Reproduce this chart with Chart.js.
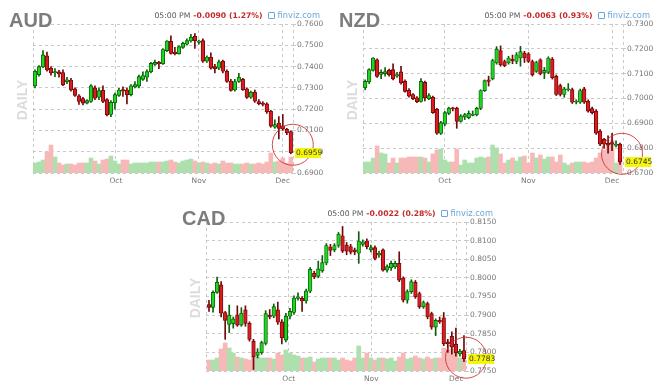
<!DOCTYPE html>
<html>
<head>
<meta charset="utf-8">
<script src="https://cdn.jsdelivr.net/npm/chart.js@4.4.1/dist/chart.umd.min.js"></script>
<style>
    body {margin: 0; background: #fff; width: 666px; height: 388px; overflow: hidden; position: relative; font-family: "DejaVu Sans", sans-serif;}
    .panel {position: absolute; width: 336px; height: 190px;}
    .panel canvas {position: absolute; left: 0; top: 0;}
    .title {position: absolute; left: 9px; top: 10px; font: bold 20px/20px "Liberation Sans", Arial, sans-serif; color: #7c7c7c;}
    .daily {position: absolute; left: -8px; top: 93px; width: 60px; text-align: center; font: bold 14px/14px "Liberation Sans", Arial, sans-serif; color: #dcdcdc; transform: rotate(-90deg);}
    .head {position: absolute; right: 16px; top: 10px; font-size: 7.7px; line-height: 10px; white-space: nowrap; color: #555;}
    .head .chg {color: #c62828; font-weight: bold; margin-left: 3px;}
    .head .brand {color: #6aa6d8; margin-left: 5px; font-size: 8.3px;}
    .head .brand i {display: inline-block; width: 5px; height: 5px; border: 1px solid #6aa6d8; border-radius: 1px; margin-right: 3px; vertical-align: -1px;}
</style>
</head>
<body>
<div class="panel" style="left:0;top:0">
    <canvas id="audChart" width="336" height="190"></canvas>
    <div class="title">AUD</div>
    <div class="daily">DAILY</div>
    <div class="head"><span>05:00 PM</span><span class="chg">-0.0090 (1.27%)</span><span class="brand"><i></i>finviz.com</span></div>
</div>
<div class="panel" style="left:330px;top:0">
    <canvas id="nzdChart" width="336" height="190"></canvas>
    <div class="title">NZD</div>
    <div class="daily">DAILY</div>
    <div class="head"><span>05:00 PM</span><span class="chg">-0.0063 (0.93%)</span><span class="brand"><i></i>finviz.com</span></div>
</div>
<div class="panel" style="left:173px;top:198px">
    <canvas id="cadChart" width="336" height="190"></canvas>
    <div class="title">CAD</div>
    <div class="daily">DAILY</div>
    <div class="head"><span>05:00 PM</span><span class="chg">-0.0022 (0.28%)</span><span class="brand"><i></i>finviz.com</span></div>
</div>
<script>
// daily candles, Sep -> early Dec
const monthNames = ["Oct", "Nov", "Dec"];

const audOpen = [.7310,.7362,.7398,.7450,.7392,.7370,.7375,.7372,.7328,.7337, .7295,.7262,.7250,.7228,.7236,.7300,.7256,.7288,.7245,.7175,
    .7230,.7265,.7292,.7290,.7268,.7305,.7308,.7340,.7350,.7375, .7410,.7420,.7413,.7475,.7518,.7468,.7460,.7490,.7505,.7520,
    .7542,.7514,.7522,.7425,.7444,.7400,.7392,.7425,.7378,.7332, .7290,.7330,.7340,.7296,.7256,.7280,.7236,.7228,.7225,.7190,
    .7115,.7135,.7122,.7105,.7095];
const audHigh = [.7385,.7405,.7475,.7468,.7400,.7390,.7382,.7385,.7350,.7345, .7300,.7268,.7255,.7245,.7315,.7310,.7300,.7310,.7250,.7240,
    .7275,.7298,.7305,.7300,.7315,.7330,.7360,.7375,.7385,.7420, .7430,.7425,.7485,.7522,.7545,.7490,.7498,.7515,.7530,.7552,
    .7555,.7525,.7530,.7450,.7465,.7410,.7430,.7430,.7385,.7340, .7340,.7368,.7345,.7300,.7285,.7290,.7245,.7235,.7230,.7195,
    .7150,.7165,.7175,.7110,.7098];
const audLow = [.7300,.7355,.7395,.7378,.7360,.7352,.7350,.7310,.7320,.7285, .7260,.7222,.7220,.7225,.7232,.7245,.7245,.7230,.7168,.7165,
    .7200,.7260,.7260,.7225,.7262,.7300,.7300,.7335,.7330,.7370, .7405,.7390,.7410,.7470,.7458,.7455,.7458,.7485,.7500,.7515,
    .7485,.7505,.7420,.7420,.7388,.7370,.7385,.7370,.7325,.7285, .7285,.7325,.7288,.7250,.7250,.7232,.7220,.7215,.7180,.7115,
    .7110,.7060,.7100,.7080,.6990];
const audClose = [.7378,.7400,.7455,.7384,.7370,.7377,.7365,.7314,.7338,.7290, .7265,.7236,.7228,.7240,.7309,.7251,.7287,.7236,.7173,.7232,
    .7268,.7290,.7284,.7267,.7310,.7315,.7353,.7358,.7376,.7415, .7420,.7413,.7480,.7520,.7462,.7460,.7494,.7509,.7522,.7538,
    .7522,.7520,.7425,.7445,.7392,.7390,.7422,.7378,.7330,.7288, .7330,.7350,.7292,.7255,.7280,.7237,.7226,.7222,.7188,.7120,
    .7127,.7110,.7106,.7089,.6995];
const audVolume = [10,11,13,21,28,16,10,8,9,9, 8,10,10,10,15,12,9,13,14,17, 12,9,13,13,9,10,10,10,10,11,
    11,11,11,12,13,11,10,12,13,14, 12,10,11,10,9,10,9,12,10,10, 9,9,9,10,9,9,10,9,11,20, 11,12,15,10,16];
const audMonthAt = [20.25, 41, 62];
const audLast = "0.6959";

const nzdOpen = [.7043,.7067,.7113,.7156,.7097,.7100,.7113,.7116,.7090,.7107, .7069,.7033,.7016,.7003,.6988,.7065,.6999,.7005,.6956,.6859,
    .6897,.6940,.6962,.6961,.6908,.6925,.6923,.6932,.6934,.6960, .7032,.7075,.7079,.7143,.7193,.7149,.7143,.7159,.7149,.7163,
    .7183,.7180,.7149,.7109,.7156,.7103,.7105,.7159,.7089,.7052, .7016,.7036,.7036,.6985,.6985,.7039,.6989,.6959,.6949,.6869,
    .6836,.6820,.6823,.6811,.6816];
const nzdHigh = [.7075,.7120,.7165,.7160,.7115,.7125,.7118,.7140,.7105,.7130, .7075,.7040,.7020,.7008,.7080,.7070,.7020,.7010,.6960,.6908,
    .6948,.6965,.6965,.6965,.6935,.6940,.6950,.6950,.6965,.7035, .7075,.7090,.7158,.7209,.7212,.7155,.7170,.7175,.7185,.7210,
    .7190,.7185,.7155,.7150,.7160,.7125,.7168,.7165,.7095,.7058, .7045,.7060,.7042,.6995,.7038,.7045,.6995,.6965,.6955,.6875,
    .6840,.6850,.6860,.6830,.6820];
const nzdLow = [.7035,.7060,.7110,.7085,.7080,.7090,.7090,.7075,.7085,.7058, .7025,.7005,.6995,.6983,.6985,.6990,.6995,.6940,.6855,.6855,
    .6890,.6935,.6950,.6880,.6905,.6915,.6918,.6930,.6930,.6955, .7028,.7050,.7075,.7138,.7130,.7128,.7138,.7140,.7140,.7130,
    .7145,.7145,.7090,.7105,.7095,.7080,.7100,.7078,.7012,.7010, .7005,.7030,.6980,.6978,.6980,.6980,.6945,.6938,.6855,.6810,
    .6800,.6780,.6790,.6805,.6735];
const nzdClose = [.7069,.7116,.7163,.7089,.7105,.7108,.7096,.7079,.7096,.7063, .7029,.7009,.6999,.6987,.7069,.7003,.7012,.6943,.6860,.6903,
    .6943,.6961,.6958,.6908,.6930,.6935,.6940,.6937,.6960,.7032, .7072,.7069,.7153,.7199,.7136,.7132,.7163,.7152,.7176,.7189,
    .7163,.7149,.7096,.7145,.7099,.7113,.7163,.7083,.7016,.7016, .7039,.7039,.6985,.6989,.7032,.6985,.6949,.6943,.6860,.6816,
    .6816,.6812,.6816,.6816,.6745];
const nzdVolume = [11,11,15,27,20,19,10,15,10,15, 15,16,16,16,16,15,11,19,23,24, 13,11,11,24,8,13,10,10,15,16,
    15,16,28,25,19,10,13,15,12,16, 17,10,20,15,18,14,16,16,11,18, 10,8,10,11,11,11,10,11,15,20, 23,28,33,10,15];
const nzdMonthAt = [20, 41, 62];
const nzdLast = "0.6745";

const cadOpen = [.7928,.7921,.7961,.7981,.7907,.7875,.7877,.7901,.7873,.7914, .7878,.7830,.7792,.7799,.7824,.7900,.7897,.7914,.7882,.7833,
    .7897,.7907,.7945,.7945,.7938,.7964,.8012,.8004,.8019,.8040, .8083,.8075,.8087,.8113,.8088,.8084,.8075,.8066,.8090,.8099,
    .8075,.8081,.8061,.8075,.8021,.8027,.8030,.8039,.7999,.7940, .7963,.7988,.7958,.7922,.7931,.7904,.7868,.7886,.7893,.7828,
    .7843,.7822,.7796,.7805];
const cadHigh = [.7940,.7965,.8002,.7990,.7910,.7927,.7895,.7925,.7920,.7925, .7882,.7835,.7810,.7830,.7912,.7915,.7930,.7935,.7888,.7905,
    .7918,.7952,.7960,.7950,.7970,.8028,.8018,.8045,.8060,.8092, .8090,.8092,.8122,.8138,.8095,.8090,.8080,.8124,.8102,.8105,
    .8088,.8086,.8072,.8078,.8035,.8045,.8045,.8070,.8003,.7968, .7995,.7993,.7962,.7938,.7935,.7908,.7890,.7895,.7907,.7835,
    .7855,.7865,.7808,.7845];
const cadLow = [.7910,.7908,.7958,.7895,.7835,.7853,.7865,.7870,.7870,.7870, .7830,.7754,.7785,.7795,.7820,.7890,.7893,.7875,.7823,.7828,
    .7890,.7902,.7940,.7910,.7932,.7960,.7998,.8000,.8015,.8035, .8060,.8070,.8082,.8068,.8062,.8064,.8062,.8039,.8085,.8078,
    .8070,.8048,.8055,.8018,.8015,.8020,.8025,.7990,.7935,.7932, .7958,.7945,.7918,.7918,.7890,.7862,.7845,.7878,.7818,.7800,
    .7795,.7790,.7790,.7775];
const cadClose = [.7921,.7961,.7988,.7905,.7886,.7900,.7890,.7873,.7905,.7878, .7835,.7788,.7801,.7826,.7904,.7895,.7923,.7881,.7839,.7897,
    .7910,.7946,.7949,.7938,.7965,.8023,.8003,.8024,.8041,.8087, .8074,.8087,.8117,.8072,.8072,.8069,.8070,.8099,.8097,.8084,
    .8081,.8052,.8066,.8021,.8030,.8039,.8039,.7994,.7940,.7963, .7990,.7949,.7922,.7934,.7895,.7868,.7886,.7882,.7823,.7823,
    .7814,.7799,.7803,.7783];
const cadVolume = [11,11,13,22,28,23,18,14,13,12, 11,14,14,13,13,13,12,18,16,21, 18,16,15,13,13,14,9,12,13,13,
    13,13,11,13,11,10,13,25,13,18, 13,11,13,13,12,13,10,14,18,12, 13,15,13,12,14,12,13,13,23,21, 22,18,13,13];
const cadMonthAt = [19.7, 40.1, 61.1];
const cadLast = "0.7783";

const colors = {
    upFill: "#1fd61f", upEdge: "#0d5f0d",
    downFill: "#dc1a1f", downEdge: "#6e0a0a",
    upVol: "#ade0ad", downVol: "#f7b8b8",
    grid: "#c9c9c9", text: "#777"
};

// red ring + yellow last-price tag
const lastPricePlugin = {
    id: "lastPrice",
    afterDraw(chart, args, opts) {
        const {ctx, chartArea, scales} = chart;
        const i = opts.close.length - 1;
        const y = scales.y.getPixelForValue(opts.close[i]);
        const x = scales.x.getPixelForValue(i);
        ctx.save();
        ctx.strokeStyle = "rgba(205,45,45,0.85)";
        ctx.lineWidth = 1;
        ctx.beginPath();
        ctx.arc(x + opts.ring[0], y + opts.ring[1], 20.5, 0, Math.PI * 2);
        ctx.stroke();
        ctx.fillStyle = "#f6f60a";
        ctx.fillRect(chartArea.right + 2, Math.round(y) - 5, 26, 10);
        ctx.fillStyle = "#333";
        ctx.font = "7.5px 'DejaVu Sans'";
        ctx.textBaseline = "middle";
        ctx.fillText(opts.label, chartArea.right + 3, Math.round(y) + 0.5);
        ctx.restore();
    }
};

function makeChart(canvasId, set) {
    const up = set.close.map((c, i) => c >= set.open[i]);
    const bodies = set.close.map((c, i) => ({x: i, y: [set.open[i], c]}));
    const wicks = set.close.map((c, i) => ({x: i, y: [set.low[i], set.high[i]]}));
    const volumes = set.volume.map((v, i) => ({x: i, y: v}));
    const tickValues = [set.xRange[0]].concat(set.monthAt, [set.xRange[1]]);

    return new Chart(document.getElementById(canvasId), {
        type: "bar",
        data: {
            datasets: [
                {
                    data: bodies, order: 1, barThickness: 3.6, borderWidth: 0.9, borderSkipped: false,
                    backgroundColor: up.map((u) => u ? colors.upFill : colors.downFill),
                    borderColor: up.map((u) => u ? colors.upEdge : colors.downEdge)
                },
                {
                    data: wicks, order: 2, barThickness: 1,
                    backgroundColor: up.map((u) => u ? colors.upEdge : colors.downEdge)
                },
                {
                    data: volumes, order: 3, yAxisID: "yv", barPercentage: 1, categoryPercentage: 1,
                    backgroundColor: up.map((u) => u ? colors.upVol : colors.downVol)
                }
            ]
        },
        options: {
            responsive: false,
            animation: false,
            devicePixelRatio: 1,
            datasets: {bar: {grouped: false}},
            layout: {padding: {left: 33, top: 24, right: 0, bottom: 0}, autoPadding: false},
            plugins: {
                legend: {display: false},
                tooltip: {enabled: false},
                lastPrice: {close: set.close, label: set.last, ring: set.ring}
            },
            scales: {
                x: {
                    type: "linear",
                    offset: false,
                    min: set.xRange[0],
                    max: set.xRange[1],
                    afterBuildTicks: (scale) => {
                        scale.ticks = tickValues.map((v) => ({value: v}));
                    },
                    afterFit: (scale) => {
                        scale.height = 17;
                    },
                    grid: {color: colors.grid, drawTicks: false, offset: false},
                    border: {display: false, dash: [3, 3]},
                    ticks: {
                        autoSkip: false, maxRotation: 0, padding: 4, color: colors.text,
                        font: {family: "DejaVu Sans", size: 7.5},
                        callback: (value, index) => monthNames[index - 1] || ""
                    }
                },
                y: {
                    position: "right",
                    min: set.yRange[0],
                    max: set.yRange[1],
                    afterFit: (scale) => {
                        scale.width = 43;
                    },
                    grid: {color: colors.grid, tickLength: 3},
                    border: {display: false, dash: [3, 3]},
                    ticks: {
                        stepSize: set.yStep, padding: 1, color: colors.text,
                        font: {family: "DejaVu Sans", size: 7.5},
                        callback: (value) => value.toFixed(4)
                    }
                },
                yv: {display: false, min: 0, max: 149}
            }
        },
        plugins: [lastPricePlugin]
    });
}

makeChart("audChart", {
    open: audOpen, high: audHigh, low: audLow, close: audClose, volume: audVolume,
    monthAt: audMonthAt, last: audLast,
    xRange: [-0.5, 64.55], yRange: [0.69, 0.76], yStep: 0.01, ring: [2, -8]
});
makeChart("nzdChart", {
    open: nzdOpen, high: nzdHigh, low: nzdLow, close: nzdClose, volume: nzdVolume,
    monthAt: nzdMonthAt, last: nzdLast,
    xRange: [-0.55, 64.75], yRange: [0.67, 0.73], yStep: 0.01, ring: [2, -8]
});
makeChart("cadChart", {
    open: cadOpen, high: cadHigh, low: cadLow, close: cadClose, volume: cadVolume,
    monthAt: cadMonthAt, last: cadLast,
    xRange: [-0.74, 63.5], yRange: [0.775, 0.815], yStep: 0.005, ring: [2, -1]
});
</script>
</body>
</html>
